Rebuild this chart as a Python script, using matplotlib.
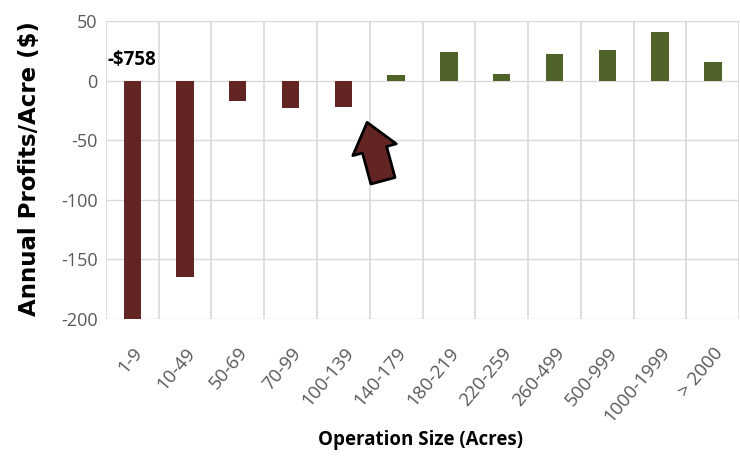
import matplotlib
matplotlib.use('Agg')
import matplotlib.pyplot as plt
import numpy as np

# Data
sizes = ["1-9", "10-49", "50-69", "70-99", "100-139", "140-179", "180-219",
         "220-259", "260-499", "500-999", "1000-1999", "> 2000"]
profits = [-758, -165, -17, -23, -22, 5, 24, 6, 22, 26, 41, 16]
yticks = [50, 0, -50, -100, -150, -200]

RED = '#632523'
GREEN = '#4F6228'
GRID = '#D9D9D9'
TICK = '#595959'

plt.rcParams['font.family'] = ['Open Sans', 'DejaVu Sans']

fig = plt.figure(figsize=(7.4, 4.58), dpi=100)
ax = fig.add_axes([0.143, 0.3035, 0.856, 0.6505])

x = np.arange(len(sizes))
colors = [RED if v < 0 else GREEN for v in profits]
ax.bar(x, profits, width=0.33, color=colors, zorder=3)

ax.set_xlim(-0.5, len(sizes) - 0.5)
ax.set_ylim(-200, 50)
ax.set_yticks(yticks)
ax.set_yticklabels([str(t) for t in yticks], fontsize=13, color=TICK)

# category boundary gridlines
for b in np.arange(-0.5, len(sizes) + 0.5, 1):
    ax.axvline(b, color=GRID, lw=1.2, zorder=1)
for t in yticks:
    ax.axhline(t, color=GRID, lw=1.0, zorder=1)

ax.set_xticks(x)
ax.set_xticklabels(sizes, rotation=50, ha='right', rotation_mode='anchor',
                   fontsize=13.5, color=TICK)
ax.tick_params(length=0, pad=6)
ax.tick_params(axis='x', pad=18)
for s in ax.spines.values():
    s.set_visible(False)

fig.text(30 / 740, 0.633, 'Annual Profits/Acre ($)', rotation=90,
         ha='center', va='center', fontsize=16.5, fontweight='bold',
         family=['DejaVu Sans'])
fig.text(420 / 740, 1 - 440 / 458, 'Operation Size (Acres)', ha='center',
         va='center', fontsize=13.5, fontweight='bold')

# label for clipped bar
ax.text(0, 17, '-$758', ha='center', va='center', fontsize=13.5,
        fontweight='bold', zorder=4)

# block arrow pointing at the break-even size
ax.annotate('', xy=(4.45, -35), xytext=(4.75, -84),
            arrowprops=dict(arrowstyle='simple,head_length=0.85,head_width=1.35,tail_width=0.75',
                            mutation_scale=24, facecolor=RED, edgecolor='black',
                            lw=2, shrinkA=0, shrinkB=0),
            zorder=5)

fig.savefig('out.png', dpi=100)
